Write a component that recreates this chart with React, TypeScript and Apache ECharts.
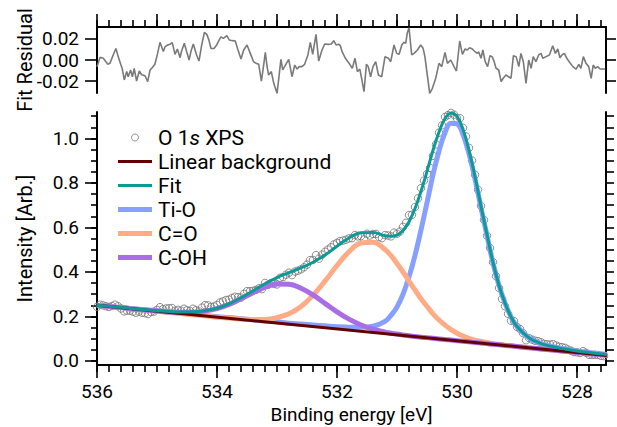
import React, { useEffect, useRef } from 'react';
import * as echarts from 'echarts';

// ---------- data ----------
const curveEnergy = [
  536.0, 535.8, 535.6, 535.4, 535.2, 535.0, 534.8, 534.6, 534.4, 534.2, 534.0, 533.8, 533.6, 533.4, 533.2, 533.0,
  532.8, 532.6, 532.4, 532.2, 532.0, 531.8, 531.6, 531.4,
  531.2, 531.1, 531.0, 530.9, 530.8, 530.7, 530.6, 530.5, 530.4, 530.3, 530.2, 530.1, 530.0, 529.9, 529.8, 529.7,
  529.6, 529.5, 529.4, 529.3, 529.2, 529.1, 529.0,
  528.8, 528.6, 528.4, 528.2, 528.0, 527.8, 527.6, 527.5,
];
const fitValues = [
  0.251, 0.246, 0.241, 0.235, 0.230, 0.226, 0.222, 0.220, 0.221, 0.226, 0.237, 0.257, 0.284, 0.315, 0.347, 0.375,
  0.397, 0.418, 0.444, 0.476, 0.516, 0.553, 0.576, 0.577,
  0.563, 0.561, 0.566, 0.587, 0.626, 0.685, 0.763, 0.852, 0.947, 1.029, 1.090, 1.115, 1.099, 1.041, 0.947, 0.829,
  0.695, 0.568, 0.443, 0.340, 0.261, 0.198, 0.155,
  0.104, 0.078, 0.064, 0.054, 0.045, 0.038, 0.032, 0.029,
];
const tiOValues = [
  0.251, 0.246, 0.241, 0.235, 0.230, 0.226, 0.220, 0.215, 0.210, 0.205, 0.199, 0.195, 0.190, 0.185, 0.180, 0.176,
  0.170, 0.166, 0.162, 0.158, 0.154, 0.152, 0.152, 0.156,
  0.178, 0.205, 0.243, 0.300, 0.378, 0.475, 0.589, 0.712, 0.837, 0.944, 1.026, 1.068, 1.065, 1.018, 0.931, 0.818,
  0.688, 0.563, 0.440, 0.339, 0.260, 0.198, 0.155,
  0.104, 0.078, 0.064, 0.054, 0.045, 0.038, 0.032, 0.029,
];
const cOValues = [
  0.250, 0.245, 0.240, 0.234, 0.229, 0.224, 0.218, 0.213, 0.208, 0.203, 0.197, 0.193, 0.189, 0.186, 0.187, 0.195,
  0.212, 0.245, 0.295, 0.359, 0.429, 0.491, 0.530, 0.534,
  0.501, 0.473, 0.438, 0.400, 0.359, 0.319, 0.280, 0.245, 0.212, 0.184, 0.161, 0.141, 0.125, 0.112, 0.102, 0.094,
  0.088, 0.083, 0.078, 0.075, 0.071, 0.068, 0.065,
  0.059, 0.054, 0.049, 0.044, 0.038, 0.033, 0.028, 0.025,
];
const cOHValues = [
  0.250, 0.245, 0.240, 0.234, 0.229, 0.225, 0.220, 0.218, 0.219, 0.224, 0.235, 0.254, 0.280, 0.307, 0.332, 0.346,
  0.345, 0.327, 0.297, 0.259, 0.221, 0.188, 0.162, 0.143,
  0.130, 0.125, 0.121, 0.117, 0.113, 0.110, 0.107, 0.105, 0.102, 0.099, 0.097, 0.094, 0.091, 0.089, 0.086, 0.083,
  0.081, 0.078, 0.075, 0.073, 0.070, 0.068, 0.065,
  0.059, 0.054, 0.049, 0.044, 0.038, 0.033, 0.028, 0.025,
];
const backgroundEnergy = [536.0, 527.5];
const backgroundValues = [0.25, 0.025];

const xpsEnergy = [
  536.0, 535.95, 535.9, 535.85, 535.8, 535.75, 535.7, 535.65, 535.6, 535.55,
  535.5, 535.45, 535.4, 535.35, 535.3, 535.25, 535.2, 535.15, 535.1, 535.05,
  535.0, 534.95, 534.9, 534.85, 534.8, 534.75, 534.7, 534.65, 534.6, 534.55,
  534.5, 534.45, 534.4, 534.35, 534.3, 534.25, 534.2, 534.15, 534.1, 534.05,
  534.0, 533.95, 533.9, 533.85, 533.8, 533.75, 533.7, 533.65, 533.6, 533.55,
  533.5, 533.45, 533.4, 533.35, 533.3, 533.25, 533.2, 533.15, 533.1, 533.05,
  533.0, 532.95, 532.9, 532.85, 532.8, 532.75, 532.7, 532.65, 532.6, 532.55,
  532.5, 532.45, 532.4, 532.35, 532.3, 532.25, 532.2, 532.15, 532.1, 532.05,
  532.0, 531.95, 531.9, 531.85, 531.8, 531.75, 531.7, 531.65, 531.6, 531.55,
  531.5, 531.45, 531.4, 531.35, 531.3, 531.25, 531.2, 531.15, 531.1, 531.05,
  531.0, 530.95, 530.9, 530.85, 530.8, 530.75, 530.7, 530.65, 530.6, 530.55,
  530.5, 530.45, 530.4, 530.35, 530.3, 530.25, 530.2, 530.15, 530.1, 530.05,
  530.0, 529.95, 529.9, 529.85, 529.8, 529.75, 529.7, 529.65, 529.6, 529.55,
  529.5, 529.45, 529.4, 529.35, 529.3, 529.25, 529.2, 529.15, 529.1, 529.05,
  529.0, 528.95, 528.9, 528.85, 528.8, 528.75, 528.7, 528.65, 528.6, 528.55,
  528.5, 528.45, 528.4, 528.35, 528.3, 528.25, 528.2, 528.15, 528.1, 528.05,
  528.0, 527.95, 527.9, 527.85, 527.8, 527.75, 527.7, 527.65, 527.6, 527.55,
  527.5,
];
const xpsIntensity = [
  0.243, 0.253, 0.250, 0.246, 0.243, 0.247, 0.253, 0.246, 0.236, 0.223,
  0.226, 0.226, 0.222, 0.217, 0.222, 0.217, 0.215, 0.211, 0.220, 0.222,
  0.230, 0.242, 0.233, 0.236, 0.237, 0.238, 0.226, 0.230, 0.226, 0.235,
  0.228, 0.225, 0.235, 0.228, 0.223, 0.240, 0.251, 0.250, 0.243, 0.245,
  0.252, 0.263, 0.268, 0.274, 0.276, 0.283, 0.289, 0.287, 0.285, 0.302,
  0.314, 0.314, 0.315, 0.320, 0.327, 0.323, 0.351, 0.342, 0.350, 0.346,
  0.344, 0.374, 0.377, 0.388, 0.397, 0.386, 0.402, 0.406, 0.412, 0.421,
  0.433, 0.453, 0.454, 0.476, 0.460, 0.478, 0.491, 0.501, 0.511, 0.524,
  0.531, 0.539, 0.541, 0.545, 0.551, 0.552, 0.566, 0.560, 0.561, 0.546,
  0.572, 0.564, 0.571, 0.571, 0.557, 0.552, 0.566, 0.564, 0.560, 0.577,
  0.572, 0.582, 0.603, 0.621, 0.656, 0.657, 0.692, 0.731, 0.777, 0.811,
  0.840, 0.868, 0.922, 0.973, 1.026, 1.059, 1.097, 1.105, 1.115, 1.107,
  1.090, 1.091, 1.048, 1.009, 0.958, 0.901, 0.837, 0.770, 0.697, 0.634,
  0.563, 0.508, 0.444, 0.381, 0.328, 0.279, 0.246, 0.212, 0.181, 0.179,
  0.153, 0.144, 0.125, 0.093, 0.103, 0.096, 0.091, 0.089, 0.084, 0.077,
  0.075, 0.074, 0.076, 0.070, 0.064, 0.062, 0.059, 0.052, 0.046, 0.040,
  0.039, 0.036, 0.044, 0.037, 0.028, 0.027, 0.028, 0.027, 0.023, 0.022,
  0.020,
];

const residualEnergy = [
  536.0, 535.95, 535.895, 535.82, 535.785, 535.73, 535.685, 535.645, 535.605, 535.58,
  535.545, 535.505, 535.48, 535.44, 535.41, 535.38, 535.34, 535.295, 535.255, 535.2,
  535.155, 535.115, 535.09, 535.035, 534.99, 534.95, 534.895, 534.865, 534.82, 534.785,
  534.745, 534.7, 534.66, 534.615, 534.59, 534.545, 534.505, 534.465, 534.435, 534.395,
  534.34, 534.3, 534.255, 534.21, 534.17, 534.135, 534.1, 534.05, 534.005, 533.965,
  533.935, 533.895, 533.835, 533.795, 533.74, 533.695, 533.65, 533.6, 533.555, 533.5,
  533.445, 533.39, 533.35, 533.305, 533.26, 533.22, 533.195, 533.165, 533.14, 533.095,
  533.055, 533.0, 532.97, 532.935, 532.905, 532.86, 532.805, 532.75, 532.705, 532.665,
  532.63, 532.585, 532.54, 532.485, 532.445, 532.405, 532.35, 532.305, 532.25, 532.205,
  532.15, 532.095, 532.055, 532.015, 531.97, 531.945, 531.915, 531.86, 531.8, 531.745,
  531.7, 531.66, 531.62, 531.59, 531.55, 531.51, 531.48, 531.44, 531.4, 531.355,
  531.31, 531.255, 531.2, 531.145, 531.105, 531.05, 531.005, 530.965, 530.92, 530.885,
  530.855, 530.83, 530.8, 530.755, 530.715, 530.66, 530.605, 530.565, 530.535, 530.495,
  530.455, 530.41, 530.355, 530.3, 530.255, 530.2, 530.16, 530.105, 530.05, 530.01,
  529.955, 529.91, 529.865, 529.83, 529.79, 529.745, 529.7, 529.66, 529.64, 529.6,
  529.57, 529.53, 529.49, 529.45, 529.415, 529.38, 529.35, 529.305, 529.265, 529.23,
  529.185, 529.14, 529.1, 529.06, 529.015, 528.97, 528.935, 528.895, 528.85, 528.805,
  528.765, 528.73, 528.685, 528.64, 528.6, 528.57, 528.515, 528.46, 528.405, 528.36,
  528.32, 528.285, 528.25, 528.21, 528.17, 528.13, 528.07, 528.015, 527.97, 527.935,
  527.895, 527.85, 527.805, 527.765, 527.73, 527.695, 527.655, 527.615, 527.57, 527.53,
];
const residualValues = [
  -0.0065, 0.0025, 0.0016, -0.0041, -0.0032, 0.0048, 0.011, 0.003, -0.004, -0.008,
  -0.019, -0.011, -0.016, -0.0095, -0.016, -0.008, -0.02, -0.0105, -0.014, -0.015,
  -0.0206, -0.0095, -0.008, -0.004, 0.0063, 0.0168, 0.008, 0.0127, 0.0143, 0.015,
  0.0165, 0.0054, 0.0105, 0.0022, 0.0086, 0.0159, 0.0079, 0.0, 0.008, 0.0152,
  0.0048, -0.001, 0.0143, 0.0263, 0.0244, 0.019, 0.011, 0.011, 0.0143, 0.019,
  0.022, 0.0206, 0.0231, 0.019, 0.0184, 0.018, 0.0095, 0.001, 0.0095, 0.0143,
  0.0063, -0.0016, -0.0032, -0.0041, -0.02, -0.004, 0.0073, -0.0063, -0.0143, -0.011,
  -0.022, -0.0317, -0.0174, 0.0006, -0.0095, -0.0048, 0.0006, -0.0159, -0.0048, -0.0086,
  -0.0063, -0.0063, -0.0041, 0.0048, 0.0168, 0.0054, 0.0244, -0.001, 0.0095, 0.0152,
  0.0149, 0.0152, 0.0184, 0.0143, 0.0149, 0.0136, 0.0079, 0.0016, -0.003, -0.0079,
  0.0016, -0.0111, -0.0086, -0.0174, -0.0301, -0.0041, -0.0063, -0.0159, -0.0063, -0.0016,
  -0.0143, -0.0159, 0.0032, 0.0016, -0.0016, 0.0143, 0.0063, 0.0054, 0.0143, 0.0168,
  0.0159, 0.0254, 0.0307, 0.0048, 0.0063, 0.0095, 0.0143, 0.0111, 0.0032, -0.0143,
  -0.0317, -0.0269, -0.0174, -0.0032, -0.0063, 0.0073, -0.0032, 0.0, -0.0063, -0.0105,
  0.0181, 0.0054, 0.0105, 0.0095, 0.0117, 0.0105, 0.0079, 0.0063, 0.0079, 0.0016,
  0.0095, -0.0016, -0.0063, 0.0041, 0.0032, -0.0016, -0.0079, -0.0095, -0.0206, -0.0174,
  -0.0143, -0.0159, -0.0174, 0.0041, 0.0032, -0.0063, 0.0063, -0.0016, -0.0222, 0.0,
  -0.0079, 0.0032, -0.0016, 0.0048, 0.0063, 0.0016, 0.0032, 0.0048, 0.0136, 0.0063,
  0.0105, 0.0022, 0.0048, 0.0063, 0.0016, -0.0016, -0.0063, -0.0086, -0.0041, -0.0079,
  0.0032, -0.0032, -0.0063, -0.0174, -0.0048, -0.0079, -0.0063, -0.0086, -0.0086, -0.0086,
];

// ---------- tick labels ----------
const energyLabels = [528, 530, 532, 534, 536];
const residualMajorTicks = [528, 529, 530, 531, 532, 533, 534, 535, 536];
const intensityLabels = [0, 0.2, 0.4, 0.6, 0.8, 1.0];
const residualLabels = [-0.02, 0, 0.02];

const energyMinorTicks: number[] = [];
for (let i = 0; i <= 42; i++) energyMinorTicks.push(Math.round((527.6 + 0.2 * i) * 10) / 10);
const intensityMinorTicks: number[] = [];
for (let i = 0; i <= 22; i++) intensityMinorTicks.push(Math.round(0.05 * i * 100) / 100);

const FONT = 'Roboto, "DejaVu Sans", sans-serif';
const X_MIN = 527.517;
const X_MAX = 536;

const COLORS = {
  tiO: '#87a0ff',
  cO: '#ffab85',
  cOH: '#a96ee6',
  bg: '#640000',
  fit: '#0c9a96',
  data: '#757575',
  residual: '#7a7a7a',
};

const zip = (xs: number[], ys: number[]) => xs.map((x, i) => [x, ys[i]]);

const axisLineStyle = { color: '#000', width: 2 };
const tickLine = { color: '#000', width: 1.6 };
const lineIcon = (h: number) => `path://M0,0H34V${h}H0Z`;

function buildOption(): any {
  const baseX = { type: 'value', min: X_MIN, max: X_MAX, inverse: true, splitLine: { show: false } };
  return {
    animation: false,
    backgroundColor: '#fff',
    textStyle: { fontFamily: FONT },
    grid: [
      { left: 97, right: 11, top: 112, height: 253, containLabel: false, outerBoundsMode: 'none' },
      { left: 97, right: 11, top: 27, height: 66, containLabel: false, outerBoundsMode: 'none' },
    ],
    xAxis: [
      {
        ...baseX, gridIndex: 0, position: 'bottom',
        axisLine: { show: true, onZero: false, lineStyle: axisLineStyle },
        axisTick: { show: true, inside: false, length: 13, customValues: energyLabels, lineStyle: tickLine },
        axisLabel: { show: true, customValues: energyLabels, margin: 17, fontSize: 19, lineHeight: 19, color: '#000', fontFamily: FONT, formatter: (v: number) => String(v) },
        name: 'Binding energy [eV]', nameLocation: 'middle', nameGap: 40, nameMoveOverlap: false,
        nameTextStyle: { fontSize: 19, lineHeight: 19, color: '#000', fontFamily: FONT },
      },
      {
        ...baseX, gridIndex: 0, position: 'bottom',
        axisLine: { show: false, onZero: false },
        axisTick: { show: true, inside: false, length: 7, customValues: energyMinorTicks, lineStyle: tickLine },
        axisLabel: { show: false },
      },
      {
        ...baseX, gridIndex: 1, position: 'top',
        axisLine: { show: true, onZero: false, lineStyle: axisLineStyle },
        axisTick: { show: true, inside: false, length: 13, customValues: residualMajorTicks, lineStyle: tickLine },
        axisLabel: { show: false },
      },
      {
        ...baseX, gridIndex: 1, position: 'top',
        axisLine: { show: false, onZero: false },
        axisTick: { show: true, inside: false, length: 7, customValues: energyMinorTicks, lineStyle: tickLine },
        axisLabel: { show: false },
      },
    ],
    yAxis: [
      {
        type: 'value', gridIndex: 0, min: -0.018, max: 1.119, position: 'left', splitLine: { show: false },
        axisLine: { show: true, onZero: false, lineStyle: axisLineStyle },
        axisTick: { show: true, inside: false, length: 12, customValues: intensityLabels, lineStyle: tickLine },
        axisLabel: { show: true, customValues: intensityLabels, margin: 18, fontSize: 19, color: '#000', fontFamily: FONT, formatter: (v: number) => v.toFixed(1) },
        name: 'Intensity [Arb.]', nameLocation: 'middle', nameGap: 62, nameRotate: 90, nameMoveOverlap: false,
        nameTextStyle: { fontSize: 20, color: '#000', fontFamily: FONT },
      },
      {
        type: 'value', gridIndex: 0, min: -0.018, max: 1.119, position: 'left', splitLine: { show: false },
        axisLine: { show: false, onZero: false },
        axisTick: { show: true, inside: false, length: 6, customValues: intensityMinorTicks, lineStyle: tickLine },
        axisLabel: { show: false },
      },
      {
        type: 'value', gridIndex: 0, min: -0.018, max: 1.119, position: 'right', splitLine: { show: false },
        axisLine: { show: true, onZero: false, lineStyle: axisLineStyle },
        axisTick: { show: true, inside: false, length: 8, customValues: intensityMinorTicks, lineStyle: tickLine },
        axisLabel: { show: false },
      },
      {
        type: 'value', gridIndex: 1, min: -0.0314, max: 0.0314, position: 'left', splitLine: { show: false },
        axisLine: { show: true, onZero: false, lineStyle: axisLineStyle },
        axisTick: { show: true, inside: false, length: 12, customValues: residualLabels, lineStyle: tickLine },
        axisLabel: { show: true, customValues: residualLabels, margin: 18, fontSize: 19, color: '#000', fontFamily: FONT, formatter: (v: number) => v.toFixed(2) },
        name: 'Fit Residual', nameLocation: 'middle', nameGap: 62, nameRotate: 90, nameMoveOverlap: false,
        nameTextStyle: { fontSize: 20, color: '#000', fontFamily: FONT },
      },
      {
        type: 'value', gridIndex: 1, min: -0.0314, max: 0.0314, position: 'right', splitLine: { show: false },
        axisLine: { show: true, onZero: false, lineStyle: axisLineStyle },
        axisTick: { show: true, inside: false, length: 10, customValues: residualLabels, lineStyle: tickLine },
        axisLabel: { show: false },
      },
    ],
    legend: {
      orient: 'vertical', left: 113, top: 122, itemWidth: 34, itemHeight: 7, itemGap: 3,
      textStyle: {
        fontSize: 21, color: '#000', fontFamily: FONT, lineHeight: 21, padding: [0, 0, 0, 1],
        rich: {
          n: { fontSize: 21, fontFamily: FONT, color: '#000', lineHeight: 21 },
          i: { fontSize: 21, fontFamily: FONT, fontStyle: 'italic', color: '#000', lineHeight: 21 },
        },
      },
      formatter: (name: string) => (name === 'O 1s XPS' ? '{n|O 1}{i|s}{n| XPS}' : name),
      data: [
        { name: 'O 1s XPS', icon: 'circle', itemStyle: { color: 'rgba(255,255,255,0)', borderColor: COLORS.data, borderWidth: 1 } },
        { name: 'Linear background', icon: lineIcon(3), itemStyle: { color: COLORS.bg, borderWidth: 0 } },
        { name: 'Fit', icon: lineIcon(3), itemStyle: { color: COLORS.fit, borderWidth: 0 } },
        { name: 'Ti-O', icon: lineIcon(5), itemStyle: { color: COLORS.tiO, borderWidth: 0 } },
        { name: 'C=O', icon: lineIcon(5), itemStyle: { color: COLORS.cO, borderWidth: 0 } },
        { name: 'C-OH', icon: lineIcon(5), itemStyle: { color: COLORS.cOH, borderWidth: 0 } },
      ],
    },
    series: [
      {
        name: 'Ti-O', type: 'line', xAxisIndex: 0, yAxisIndex: 0, data: zip(curveEnergy, tiOValues),
        symbol: 'none', smooth: 0.4, lineStyle: { color: COLORS.tiO, width: 5 }, itemStyle: { color: COLORS.tiO },
      },
      {
        name: 'C=O', type: 'line', xAxisIndex: 0, yAxisIndex: 0, data: zip(curveEnergy, cOValues),
        symbol: 'none', smooth: 0.4, lineStyle: { color: COLORS.cO, width: 5 }, itemStyle: { color: COLORS.cO },
      },
      {
        name: 'C-OH', type: 'line', xAxisIndex: 0, yAxisIndex: 0, data: zip(curveEnergy, cOHValues),
        symbol: 'none', smooth: 0.4, lineStyle: { color: COLORS.cOH, width: 5 }, itemStyle: { color: COLORS.cOH },
      },
      {
        name: 'Linear background', type: 'line', xAxisIndex: 0, yAxisIndex: 0, data: zip(backgroundEnergy, backgroundValues),
        symbol: 'none', lineStyle: { color: COLORS.bg, width: 3 }, itemStyle: { color: COLORS.bg },
      },
      {
        name: 'Fit', type: 'line', xAxisIndex: 0, yAxisIndex: 0, data: zip(curveEnergy, fitValues),
        symbol: 'none', smooth: 0.4, lineStyle: { color: COLORS.fit, width: 3 }, itemStyle: { color: COLORS.fit },
      },
      {
        name: 'O 1s XPS', type: 'scatter', xAxisIndex: 0, yAxisIndex: 0, data: zip(xpsEnergy, xpsIntensity),
        symbol: 'circle', symbolSize: 7.5,
        itemStyle: { color: 'rgba(255,255,255,0)', borderColor: COLORS.data, borderWidth: 1 },
      },
      {
        name: 'residual', type: 'line', xAxisIndex: 2, yAxisIndex: 3, data: zip(residualEnergy, residualValues),
        symbol: 'none', clip: false, lineStyle: { color: COLORS.residual, width: 1.6 },
      },
    ],
  };
}

export default function App() {
  const ref = useRef<HTMLDivElement>(null);
  useEffect(() => {
    if (!ref.current) return;
    const chart = echarts.init(ref.current, undefined, { renderer: 'svg' });
    chart.setOption(buildOption());
    return () => chart.dispose();
  }, []);
  return (
    <div
      ref={ref}
      style={{ position: 'fixed', left: 0, top: 0, width: 617, height: 427, background: '#fff' }}
    />
  );
}
